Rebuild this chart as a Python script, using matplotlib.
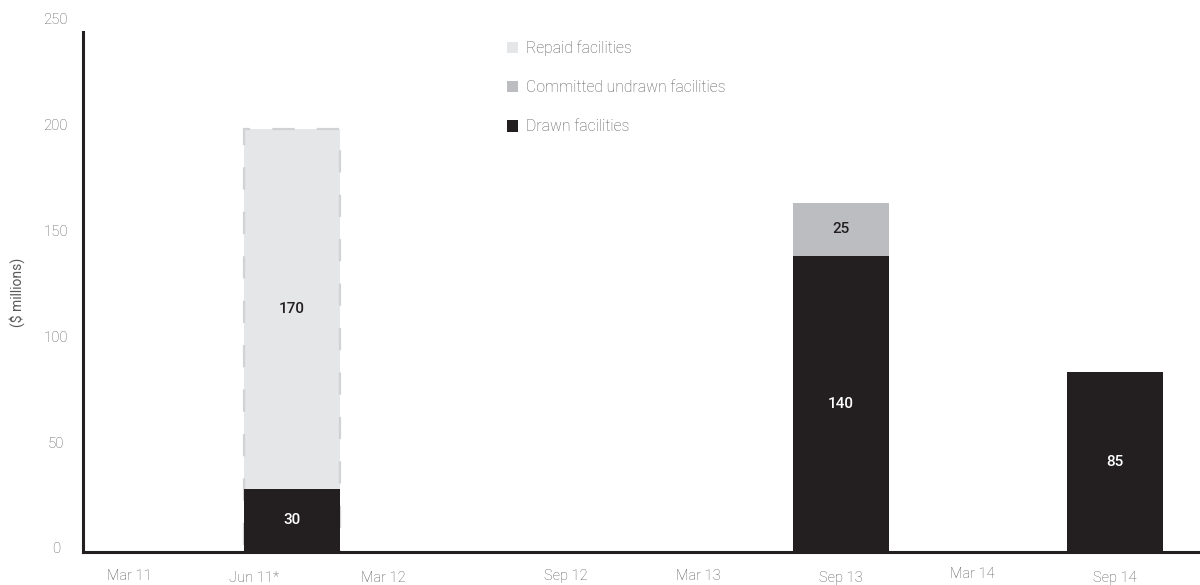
import matplotlib
matplotlib.use("Agg")
import matplotlib.pyplot as plt
from matplotlib.patches import Patch
import matplotlib.transforms as mtransforms

plt.rcParams['font.family'] = ['Roboto', 'Liberation Sans', 'DejaVu Sans']
plt.rcParams['font.weight'] = 'light'

# Reporting periods and facility values ($ millions)
periods = ["Mar 11", "Jun 11*", "Mar 12", "Sep 12", "Mar 13", "Sep 13", "Mar 14", "Sep 14"]
drawn = [0, 30, 0, 0, 0, 140, 0, 85]
committed_undrawn = [0, 0, 0, 0, 0, 25, 0, 0]
repaid = [0, 170, 0, 0, 0, 0, 0, 0]

# Small per-label nudges (points) for the period labels
label_dx = [-18, -27, -33, 0, -4, 0, -4, 0]
label_dy = [1, -1, -1, 1, 1, -1, 2, -1]

c_drawn = "#231f20"
c_committed = "#bcbdc0"
c_repaid = "#e5e6e7"
c_text = "#58595b"

fig = plt.figure(figsize=(12, 5.85), dpi=100)
ax = fig.add_axes([0.069, 0.0564, 0.931, 0.904])

x = list(range(len(periods)))
w = 0.70

# Repaid facilities: dashed outline, stacked on drawn
totals_rep = [d + r for d, r in zip(drawn, repaid)]
for i in x:
    if repaid[i] > 0:
        ax.bar(i, totals_rep[i], width=w, color=c_repaid, edgecolor="#d1d2d4",
               linewidth=1.6, linestyle=(6, (10, 10)), zorder=2)
ax.bar(x, committed_undrawn, width=w, bottom=drawn, color=c_committed, zorder=3)
ax.bar(x, drawn, width=w, color=c_drawn, zorder=4)

# Value labels
val_kw = dict(ha="center", va="center", fontsize=11, fontweight="medium", zorder=5)
for i in x:
    if drawn[i] > 0:
        ax.text(i, drawn[i] / 2, str(drawn[i]), color="white", **val_kw)
    if committed_undrawn[i] > 0:
        ax.text(i, drawn[i] + committed_undrawn[i] / 2, str(committed_undrawn[i]),
                color=c_drawn, **val_kw)
    if repaid[i] > 0:
        ax.text(i, drawn[i] + repaid[i] / 2, str(repaid[i]), color=c_drawn, **val_kw)

ax.set_xlim(-0.525, 7.62)
ax.set_ylim(0, 250)
ax.set_yticks([0, 50, 100, 150, 200, 250])
ax.tick_params(axis="y", length=0, pad=19.5, labelsize=10.8, labelcolor=c_text)
ax.tick_params(axis="x", length=0, pad=13, labelsize=10.5, labelcolor=c_text)
ax.set_xticks(x)
ax.set_xticklabels(periods)
for lbl, dx, dy in zip(ax.get_xticklabels(), label_dx, label_dy):
    lbl.set_transform(lbl.get_transform() +
                      mtransforms.ScaledTranslation(dx / 72, dy / 72, fig.dpi_scale_trans))
for lbl in ax.get_yticklabels():
    lbl.set_horizontalalignment("center")
    lbl.set_transform(lbl.get_transform() +
                      mtransforms.ScaledTranslation(0, 3 / 72, fig.dpi_scale_trans))

for s in ["top", "right"]:
    ax.spines[s].set_visible(False)
for s in ["left", "bottom"]:
    ax.spines[s].set_linewidth(2.2)
    ax.spines[s].set_color(c_drawn)
ax.spines["left"].set_bounds(0, 246)

ax.set_ylabel("($ millions)", fontsize=10, color=c_text)
ax.yaxis.set_label_coords(-0.052, 0.49)

handles = [Patch(facecolor=c_repaid, label="Repaid facilities"),
           Patch(facecolor=c_committed, label="Committed undrawn facilities"),
           Patch(facecolor=c_drawn, label="Drawn facilities")]
ax.legend(handles=handles, loc="upper left", bbox_to_anchor=(0.374, 0.98),
          frameon=False, fontsize=11.3, labelcolor=c_text, handlelength=0.72,
          handleheight=0.72, handletextpad=0.5, labelspacing=1.55,
          borderaxespad=0.0)

fig.savefig("out.png", dpi=100)
